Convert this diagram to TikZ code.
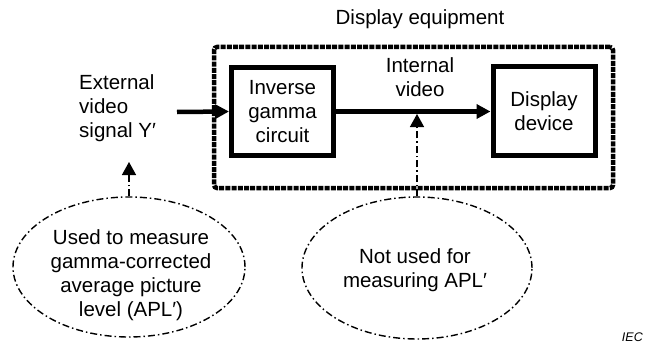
\documentclass[tikz,border=0pt]{standalone}
\usepackage{fontspec}
\setmainfont{Liberation Sans}
\usetikzlibrary{arrows.meta,shapes.geometric}
\begin{document}
\begin{tikzpicture}[x=1pt,y=-1pt,
  txt/.style={font=\fontsize{20.5}{24}\selectfont, align=center, inner sep=0pt},
  block/.style={draw, line width=5pt, minimum width=102pt, minimum height=88pt,
    inner sep=0pt, font=\fontsize{20.5}{24}\selectfont, align=center},
  frame/.style={draw, line width=4.5pt, dash pattern=on 5pt off 1.2pt, rounded corners=3pt,
    minimum width=399pt, minimum height=141pt, inner sep=0pt},
  cloud/.style={draw, ellipse, line width=1.4pt, inner sep=0pt,
    dash pattern=on 7pt off 3pt on 1.5pt off 3pt},
  flow/.style={line width=4.5pt, -{Triangle[length=14pt,width=14pt]}},
  probe/.style={line width=1.4pt, dash pattern=on 7pt off 3pt on 1.5pt off 3pt,
    -{Triangle[length=13pt,width=14pt]}}
]
\useasboundingbox (0,0) rectangle (648,345);

% equipment boundary and its title
\node[frame] (equip) at (413.5,117.5) {};
\node[txt, anchor=base] (title) at (420,25) {Display equipment};

% processing chain
\node[block] (inv) at (282.5,111.5) {Inverse\\gamma\\circuit};
\node[block] (disp) at (544,111) {Display\\device};

\node[txt, anchor=north] (intlab) at (420,57) {Internal\\video};
\node[txt, anchor=north west, align=left] (extlab) at (79,74.5) {External\\video\\signal Y′};

\coordinate (src) at (177,112);
\draw[flow] (src) -- (inv.west);
\draw[flow] (inv.east) -- (disp.west |- inv.east);

% measurement notes
\node[cloud, minimum width=232pt, minimum height=140pt] (noteA) at (129,267) {};
\node[txt] (noteAtxt) at (131,275.5) {Used to measure\\gamma-corrected\\average picture\\level (APL′)};
\node[cloud, minimum width=230pt, minimum height=142pt] (noteB) at (417,268) {};
\node[txt] (noteBtxt) at (415,270) {Not used for\\measuring APL′};

\coordinate (tapA) at (129,162);
\coordinate (tapB) at (417,114);
\draw[probe] (noteA.north) -- (tapA);
\draw[probe] (noteB.north) -- (tapB);

\node[font=\fontsize{12.5}{15}\selectfont\itshape, anchor=base east, inner sep=0pt] (iec) at (643,341) {IEC};
\end{tikzpicture}
\end{document}
